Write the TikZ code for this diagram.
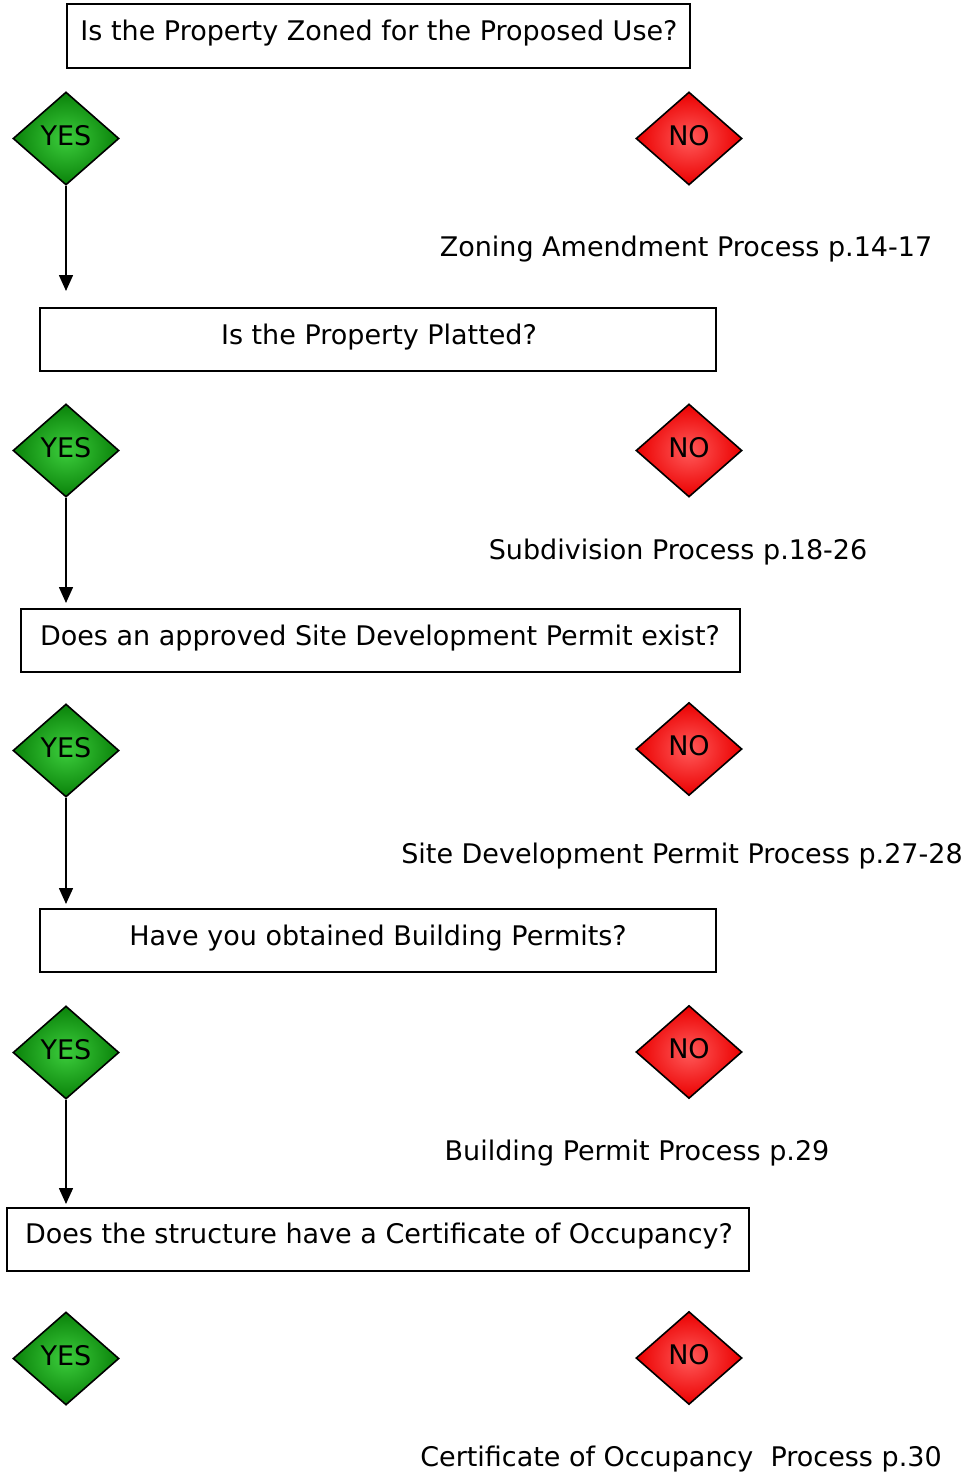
\documentclass[tikz,border=0pt]{standalone}
\usepackage{fontspec}
\setmainfont{DejaVu Sans}
\usetikzlibrary{shapes.geometric,arrows.meta}
\begin{document}
\begin{tikzpicture}[x=1pt,y=-1pt,
  fs/.style={font=\fontsize{27}{30}\selectfont},
  qbox/.style={draw,line width=1.6pt,rectangle,inner sep=0pt},
  qtext/.style={fs,inner sep=0pt},
  dia/.style={draw,line width=1.6pt,diamond,inner sep=0pt,minimum width=106pt,minimum height=93pt},
  yesd/.style={dia,inner color={rgb,255:red,60;green,205;blue,60},outer color={rgb,255:red,10;green,130;blue,10}},
  nod/.style={dia,inner color={rgb,255:red,255;green,90;blue,90},outer color={rgb,255:red,235;green,0;blue,0}},
  lbl/.style={fs,inner sep=0pt},
  arr/.style={line width=1.6pt,-{Triangle[length=16pt,width=14pt]}}]
\useasboundingbox (0,0) rectangle (971,1472);
% boxes
\node[qbox,minimum width=623pt,minimum height=64pt] (q1) at (378.5,36) {};
\node[qtext] (t1) at (379,33) {Is the Property Zoned for the Proposed Use?};
\node[qbox,minimum width=676pt,minimum height=63pt] (q2) at (378,339.5) {};
\node[qtext] (t2) at (379,337) {Is the Property Platted?};
\node[qbox,minimum width=719pt,minimum height=63pt] (q3) at (380.5,640.5) {};
\node[qtext] (t3) at (380,638) {Does an approved Site Development Permit exist?};
\node[qbox,minimum width=676pt,minimum height=63pt] (q4) at (378,940.5) {};
\node[qtext] (t4) at (378,938) {Have you obtained Building Permits?};
\node[qbox,minimum width=742pt,minimum height=63pt] (q5) at (378,1239.5) {};
\node[qtext] (t5) at (379,1236) {Does the structure have a Certificate of Occupancy?};
% diamonds
\foreach \i/\y in {1/138.5,2/450.5,3/750.5,4/1052.5,5/1358.5}{
  \node[yesd] (y\i) at (66,\y) {};
  \node[lbl] (yt\i) at (66,\y-3) {YES};
}
\foreach \i/\y in {1/138.5,2/450.5,3/749,4/1052,5/1358}{
  \node[nod] (n\i) at (689,\y) {};
  \node[lbl] (nt\i) at (689,\y-3) {NO};
}
% labels
\node[lbl] (l1) at (686,249) {Zoning Amendment Process p.14-17};
\node[lbl] (l2) at (678,552) {Subdivision Process p.18-26};
\node[lbl] (l3) at (682,856) {Site Development Permit Process p.27-28};
\node[lbl] (l4) at (637,1153) {Building Permit Process p.29};
\node[lbl] (l5) at (681,1459) {Certificate of Occupancy\ \ Process p.30};
% arrows
\coordinate (e1) at (66,291);
\coordinate (e2) at (66,603);
\coordinate (e3) at (66,904);
\coordinate (e4) at (66,1204);
\draw[arr] (y1.south) -- (e1);
\draw[arr] (y2.south) -- (e2);
\draw[arr] (y3.south) -- (e3);
\draw[arr] (y4.south) -- (e4);
\end{tikzpicture}
\end{document}
